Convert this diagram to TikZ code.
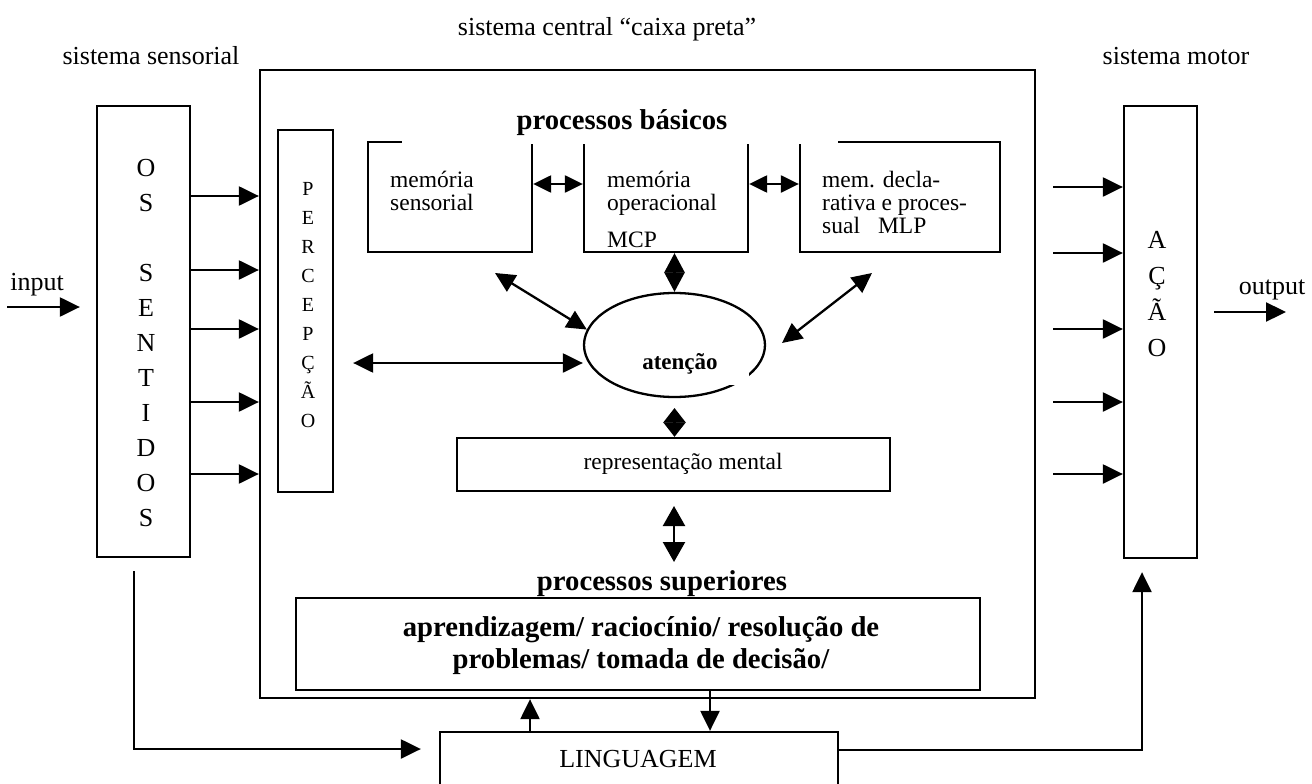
\documentclass[tikz,border=0pt]{standalone}
\usepackage{fontspec}
\setmainfont{Liberation Serif}
\usetikzlibrary{arrows.meta,shapes.geometric,calc}
\begin{document}
\begin{tikzpicture}[x=1pt,y=-1pt,
  box/.style={draw,line width=2.3pt,inner sep=0pt,rectangle},
  arr/.style={line width=2.3pt,-{Triangle[length=20pt,width=19pt]}},
  darr/.style={line width=2.3pt,{Triangle[length=20pt,width=19pt]}-{Triangle[length=20pt,width=19pt]}},
  harr/.style={line width=2.3pt,{Triangle[length=18pt,width=17pt]}-{Triangle[length=18pt,width=17pt]}},
  tipA/.style={line width=2.3pt,-{Triangle[length=19.4pt,width=20pt]}},
  tipB/.style={line width=2.3pt,-{Triangle[length=14.5pt,width=22pt]}},
  varr/.style={line width=2.3pt,{Triangle[length=20pt,width=22pt]}-{Triangle[length=20pt,width=22pt]}},
  txt/.style={inner sep=0pt,font=\fontsize{26}{31}\selectfont},
  memtxt/.style={inner sep=0pt,font=\fontsize{23.5}{23.5}\selectfont},
  boldtxt/.style={inner sep=0pt,font=\fontsize{28.7}{33}\selectfont\bfseries},
  stack/.style={inner sep=0pt,align=center}
]
\fill[white] (0,0) rectangle (1312,784);
\useasboundingbox (0,0) rectangle (1312,784);

% boxes
\node[box,minimum width=775pt,minimum height=628pt] (big) at (647.5,384) {};
\node[box,minimum width=93pt,minimum height=451pt] (sent) at (143.5,331.5) {};
\node[box,minimum width=55pt,minimum height=362pt] (perc) at (305.5,311) {};
\node[box,minimum width=73pt,minimum height=452pt] (acao) at (1160.5,332) {};
\node[box,minimum width=164pt,minimum height=110pt] (msens) at (450,197) {};
\node[box,minimum width=164pt,minimum height=110pt] (mcp) at (666,197) {};
\node[box,minimum width=200pt,minimum height=110pt] (mlp) at (900,197) {};
\node[box,minimum width=433pt,minimum height=53pt] (rep) at (673.5,464.5) {};
\node[box,minimum width=684pt,minimum height=92pt] (sup) at (638,644) {};
\node[box,minimum width=398pt,minimum height=68pt] (ling) at (639,766) {};
\node[draw,ellipse,line width=2.3pt,inner sep=0pt,minimum width=181pt,minimum height=104pt] (att) at (674.5,345) {};
\fill[white] (620,320) rectangle (749,385);

% titles
\node[txt,anchor=base] (tcentral) at (607,36) {sistema central “caixa preta”};
\node[txt,anchor=base] (tsens) at (151,65) {sistema sensorial};
\node[txt,anchor=base] (tmotor) at (1176,65) {sistema motor};
\node[txt,anchor=base] (tin) at (37,290) {input};
\node[txt,anchor=base] (tout) at (1272,294) {output};

% processos basicos (white box hiding box tops)
\node[fill=white,inner sep=0pt,minimum width=436pt,minimum height=46pt] (basfill) at (620,121) {};
\node[boldtxt,anchor=base] (tbas) at (622,129) {processos básicos};

% stacked letters
\node[stack,font=\fontsize{26}{35}\selectfont] (tsent) at (146,343) {O\\S\\[35pt]S\\E\\N\\T\\I\\D\\O\\S};
\node[stack,font=\fontsize{20}{29}\selectfont] (tperc) at (308,305) {P\\E\\R\\C\\E\\P\\Ç\\Ã\\O};
\node[stack,font=\fontsize{26}{36}\selectfont] (tacao) at (1157,294) {A\\Ç\\Ã\\O};

% memory texts
\node[memtxt,anchor=base west] (ms1) at (390,187) {memória};
\node[memtxt,anchor=base west] (ms2) at (390,210) {sensorial};
\node[memtxt,anchor=base west] (mc1) at (607,187) {memória};
\node[memtxt,anchor=base west] (mc2) at (607,210) {operacional};
\node[memtxt,anchor=base] (mc3) at (632,247) {MCP};
\node[memtxt,anchor=base west] (ml1) at (822,187) {mem. decla-};
\node[memtxt,anchor=base west] (ml2) at (822,210) {rativa e proces-};
\node[memtxt,anchor=base west] (ml3) at (822,233) {sual\hspace{18pt}MLP};

% middle texts
\node[inner sep=0pt,font=\fontsize{23}{26}\selectfont\bfseries,anchor=base] (tatt) at (680,369) {atenção};
\node[memtxt,anchor=base] (trep) at (683,469) {representação mental};
\node[boldtxt,anchor=base] (tsupt) at (662,590) {processos superiores};
\node[boldtxt,anchor=base] (tsup1) at (641,636) {aprendizagem/ raciocínio/ resolução de};
\node[boldtxt,anchor=base] (tsup2) at (641,668) {problemas/ tomada de decisão/};
\node[txt,anchor=base] (tling) at (638,767) {LINGUAGEM};

% sentidos -> percepcao
\foreach \yy in {196,270,329,402,474}
  \draw[arr] (sent.east |- 0,\yy) -- (big.west |- 0,\yy);
% -> acao
\foreach \yy in {187,253,329,402,474}
  \draw[arr] ($(big.east |- 0,\yy)+(17,0)$) -- (acao.west |- 0,\yy);

% input / output
\coordinate (inS) at (7,307);
\draw[arr] (inS) -- ($(sent.west |- inS)+(-16,0)$);
\coordinate (outE) at (1286,312);
\draw[arr] ($(acao.east |- outE)+(16,0)$) -- (outE);

% memory arrows
\draw[harr] ($(msens.east)+(0,-13)$) -- ($(mcp.west)+(0,-13)$);
\draw[harr] ($(mcp.east)+(0,-13)$) -- ($(mlp.west)+(0,-13)$);
\coordinate (mcpb) at (att.north |- mcp.south);
\coordinate (dm1) at ($(mcpb)!0.5!(att.north)$);
\draw[tipA] (dm1) -- (mcpb);
\draw[tipA] (dm1) -- (att.north);

% attention arrows
\draw[darr] ($(perc.east |- 0,363)+(19,0)$) -- (att.west |- 0,363);
\coordinate (dl) at (495,273);
\draw[darr] (dl) -- (att.170);
\coordinate (dr1) at (872,273);
\coordinate (dr2) at (782,343);
\draw[darr] (dr1) -- (dr2);
\coordinate (dm2) at (674.5,422.5);
\coordinate (dtop) at (674.5,408);
\draw[tipB] (dm2) -- (dtop);
\draw[tipB] (dm2) -- (dm2 |- rep.north);
\coordinate (r1) at (674,506);
\coordinate (r2) at (674,562);
\draw[varr] (r1) -- (r2);

% language
\draw[arr] (ling.north -| 530,0) -- (big.south -| 530,0);
\draw[arr] (sup.south -| 710,0) -- (ling.north -| 710,0);
\coordinate (sb) at (134,571);
\draw[arr] (sb) |- ($(ling.west |- 0,749)+(-18,0)$);
\draw[arr] (ling.east |- 0,750) -| ($(acao.south)+(-18.5,13)$);
\end{tikzpicture}
\end{document}
